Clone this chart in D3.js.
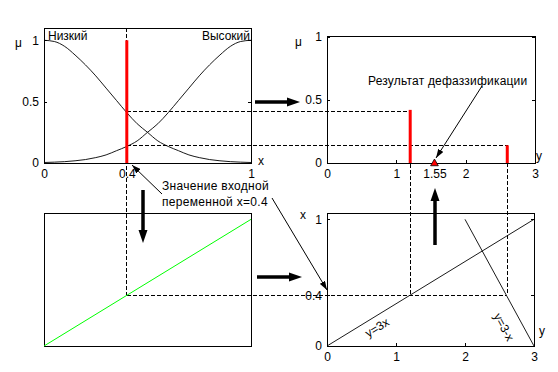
<!DOCTYPE html>
<html><head><meta charset="utf-8">
<script src="https://cdn.jsdelivr.net/npm/d3@7"></script>
<style>
body{margin:0;background:#fff}
text{font-family:"Liberation Sans",Arial,sans-serif;font-size:12px;fill:#000}
</style>
</head><body>
<svg id="c" width="558" height="372"></svg>
<script>
// ---- data ----
const xGrid  = [0,0.05,0.1,0.15,0.2,0.25,0.3,0.35,0.4,0.45,0.5,0.55,0.6,0.65,0.7,0.75,0.8,0.85,0.9,0.95,1];
const muLow  = [1.00,0.99,0.95,0.88,0.80,0.71,0.61,0.51,0.41,0.32,0.25,0.18,0.135,0.10,0.066,0.044,0.028,0.018,0.011,0.007,0.004];
const muHigh = [0.004,0.007,0.011,0.018,0.028,0.044,0.066,0.10,0.135,0.18,0.25,0.32,0.41,0.51,0.61,0.71,0.80,0.88,0.95,0.99,1.00];
const termLabels = ["Низкий","Высокий"];
const inputX = 0.4;
const ruleOutputs = [1.2, 2.6];     // y = 3x, y = 3-x at x = 0.4
const ruleWeights = [0.42, 0.14];   // μ_low(0.4), μ_high(0.4)
const defuzzY = 1.55;
const rule1 = [[0,0],[1,3]];        // [x, y]  y = 3x
const rule2 = [[1,2],[0,3]];        // [x, y]  y = 3 - x
const identity = [[0,0],[1,1]];     // green line
const ruleLabels = ["y=3x","y=3-x"];
const ticksTLx = [0,0.4,1], ticksTLy = [0,0.5,1];
const ticksTRx = [0,1,1.55,2,3], ticksTRy = [0,0.5,1];
const ticksBRy = [0,1,2,3], ticksBRx = [0,0.4,1];
const noteDefuzz = "Результат дефаззификации";
const noteInput = ["Значение входной","переменной x=0.4"];

// ---- layout ----
const svg = d3.select("#c");
const xTL = d3.scaleLinear().domain([0,1]).range([44,251]);
const yTL = d3.scaleLinear().domain([0,1.1]).range([163,28]);
const xTR = d3.scaleLinear().domain([0,3]).range([327,535]);
const yTR = d3.scaleLinear().domain([0,1]).range([163,36.5]);
const xBL = d3.scaleLinear().domain([0,1]).range([44,251]);
const yBL = d3.scaleLinear().domain([0,1.05]).range([346,213]);
const hBR = d3.scaleLinear().domain([0,3]).range([327,534]);     // y variable (horizontal)
const vBR = d3.scaleLinear().domain([0,1.05]).range([346,213]);  // x variable (vertical)

const defs = svg.append("defs");
defs.append("marker").attr("id","ah").attr("viewBox","0 0 9 6").attr("refX",9).attr("refY",3)
  .attr("markerWidth",9).attr("markerHeight",6).attr("markerUnits","userSpaceOnUse").attr("orient","auto")
  .append("path").attr("d","M0,0L9,3L0,6Z").attr("fill","#000");

function box(xs, ys){
  svg.append("rect").attr("x",xs.range()[0]).attr("y",ys.range()[1])
    .attr("width",xs.range()[1]-xs.range()[0]).attr("height",ys.range()[0]-ys.range()[1])
    .attr("fill","none").attr("stroke","#000").attr("shape-rendering","crispEdges");
}
function axes(xs, ys, xt, yt){
  const gx = svg.append("g").attr("transform",`translate(0,${ys.range()[0]})`)
    .call(d3.axisBottom(xs).tickValues(xt).tickSizeInner(-3).tickSizeOuter(0).tickPadding(6).tickFormat(d=>String(d)));
  const gy = svg.append("g").attr("transform",`translate(${xs.range()[0]},0)`)
    .call(d3.axisLeft(ys).tickValues(yt).tickSizeInner(-3).tickSizeOuter(0).tickPadding(5).tickFormat(d=>String(d)));
  const gr = svg.append("g").attr("transform",`translate(${xs.range()[1]},0)`)
    .call(d3.axisRight(ys).tickValues(yt).tickSizeInner(-3).tickSizeOuter(0).tickFormat(""));
  [gx,gy,gr].forEach(g=>{g.select(".domain").remove(); g.selectAll("line").attr("shape-rendering","crispEdges");});
}

// dashed guide lines
const dash = (x1,y1,x2,y2)=>svg.append("line").attr("x1",x1).attr("y1",y1).attr("x2",x2).attr("y2",y2)
  .attr("stroke","#000").attr("stroke-dasharray","4,2").attr("shape-rendering","crispEdges");
dash(xTL(inputX), yTL.range()[1], xTL(inputX), vBR(inputX));
dash(xBL(inputX), vBR(inputX), hBR(ruleOutputs[1]), vBR(inputX));
ruleOutputs.forEach((o,i)=>{
  dash(xTL(inputX), yTL(ruleWeights[i]), xTR(o), yTL(ruleWeights[i]));
  dash(xTR(o), yTR(ruleWeights[i]), xTR(o), vBR(inputX));
});

// panels
box(xTL,yTL); axes(xTL,yTL,ticksTLx,ticksTLy);
box(xTR,yTR); axes(xTR,yTR,ticksTRx,ticksTRy);
box(xBL,yBL);
box(hBR,vBR); axes(hBR,vBR,ticksBRy,ticksBRx);

// top-left membership curves
const lineTL = d3.line().x((d,i)=>xTL(xGrid[i])).y(d=>yTL(d)).curve(d3.curveMonotoneX);
[muLow,muHigh].forEach(m=>svg.append("path").attr("d",lineTL(m)).attr("fill","none").attr("stroke","#000").attr("stroke-width",0.9));
svg.append("line").attr("x1",xTL(inputX)).attr("x2",xTL(inputX)).attr("y1",yTL(0)).attr("y2",yTL(1))
  .attr("stroke","#ff0000").attr("stroke-width",3);
svg.append("text").attr("x",xTL(0)+4).attr("y",40).text(termLabels[0]);
svg.append("text").attr("x",xTL(1)-1).attr("y",40).attr("text-anchor","end").text(termLabels[1]);

// top-right output bars
ruleOutputs.forEach((o,i)=>svg.append("line").attr("x1",xTR(o)).attr("x2",xTR(o)).attr("y1",yTR(0)).attr("y2",yTR(ruleWeights[i]))
  .attr("stroke","#ff0000").attr("stroke-width",3));
svg.append("path").attr("d",d3.symbol(d3.symbolTriangle).size(26)())
  .attr("transform",`translate(${xTR(defuzzY)},${yTR(0)+0.5})`).attr("fill","#ff0000").attr("stroke","#000").attr("stroke-width",0.8);

// bottom-left green line
svg.append("path").attr("d",d3.line().x(d=>xBL(d[0])).y(d=>yBL(d[1]))(identity)).attr("stroke","#00ff00").attr("fill","none");

// bottom-right rule lines (horizontal = y, vertical = x)
const lineBR = d3.line().x(d=>hBR(d[1])).y(d=>vBR(d[0]));
[rule1,rule2].forEach(r=>svg.append("path").attr("d",lineBR(r)).attr("stroke","#000").attr("fill","none").attr("stroke-width",0.9));
const ruleLabelPos = [[0.725,0.146],[2.565,0.15]];
ruleLabels.forEach((t,i)=>{
  const r = i===0?rule1:rule2;
  const ang = Math.atan2(vBR(r[1][0])-vBR(r[0][0]), hBR(r[1][1])-hBR(r[0][1]))*180/Math.PI;
  svg.append("text").attr("transform",`translate(${hBR(ruleLabelPos[i][0])},${vBR(ruleLabelPos[i][1])}) rotate(${ang})`)
    .attr("text-anchor","middle").attr("dy","0.35em").text(t);
});

// axis name labels
svg.append("text").attr("x",15).attr("y",47).text("μ");
svg.append("text").attr("x",295).attr("y",46).text("μ");
svg.append("text").attr("x",258).attr("y",165).text("x");
svg.append("text").attr("x",536).attr("y",160).text("y");
svg.append("text").attr("x",300).attr("y",219).text("x");
svg.append("text").attr("x",539).attr("y",335).text("y");

// annotations
svg.append("text").attr("x",368).attr("y",85).attr("letter-spacing","0.2").text(noteDefuzz);
svg.append("line").attr("x1",482).attr("y1",86).attr("x2",436).attr("y2",158).attr("stroke","#000").attr("marker-end","url(#ah)");
svg.append("text").attr("x",162).attr("y",190).attr("letter-spacing","0.3").text(noteInput[0]);
svg.append("text").attr("x",162).attr("y",206).attr("letter-spacing","0.3").text(noteInput[1]);
svg.append("line").attr("x1",162).attr("y1",194).attr("x2",132).attr("y2",165).attr("stroke","#000").attr("marker-end","url(#ah)");
svg.append("line").attr("x1",272).attr("y1",198).attr("x2",327).attr("y2",290).attr("stroke","#000").attr("marker-end","url(#ah)");

// thick flow arrows
function bigArrow(x1,y1,x2,y2){
  const L=13, W=4.5, dx=x2-x1, dy=y2-y1, len=Math.hypot(dx,dy), ux=dx/len, uy=dy/len;
  const bx=x2-ux*L, by=y2-uy*L;
  svg.append("line").attr("x1",x1).attr("y1",y1).attr("x2",bx).attr("y2",by).attr("stroke","#000").attr("stroke-width",3.5);
  svg.append("path").attr("d",`M${x2},${y2}L${bx-uy*W},${by+ux*W}L${bx+uy*W},${by-ux*W}Z`).attr("fill","#000");
}
bigArrow(255,102,300,102);
bigArrow(143,190,143,243);
bigArrow(257,277,302,277);
bigArrow(435,245,435,188);
</script>
</body></html>
